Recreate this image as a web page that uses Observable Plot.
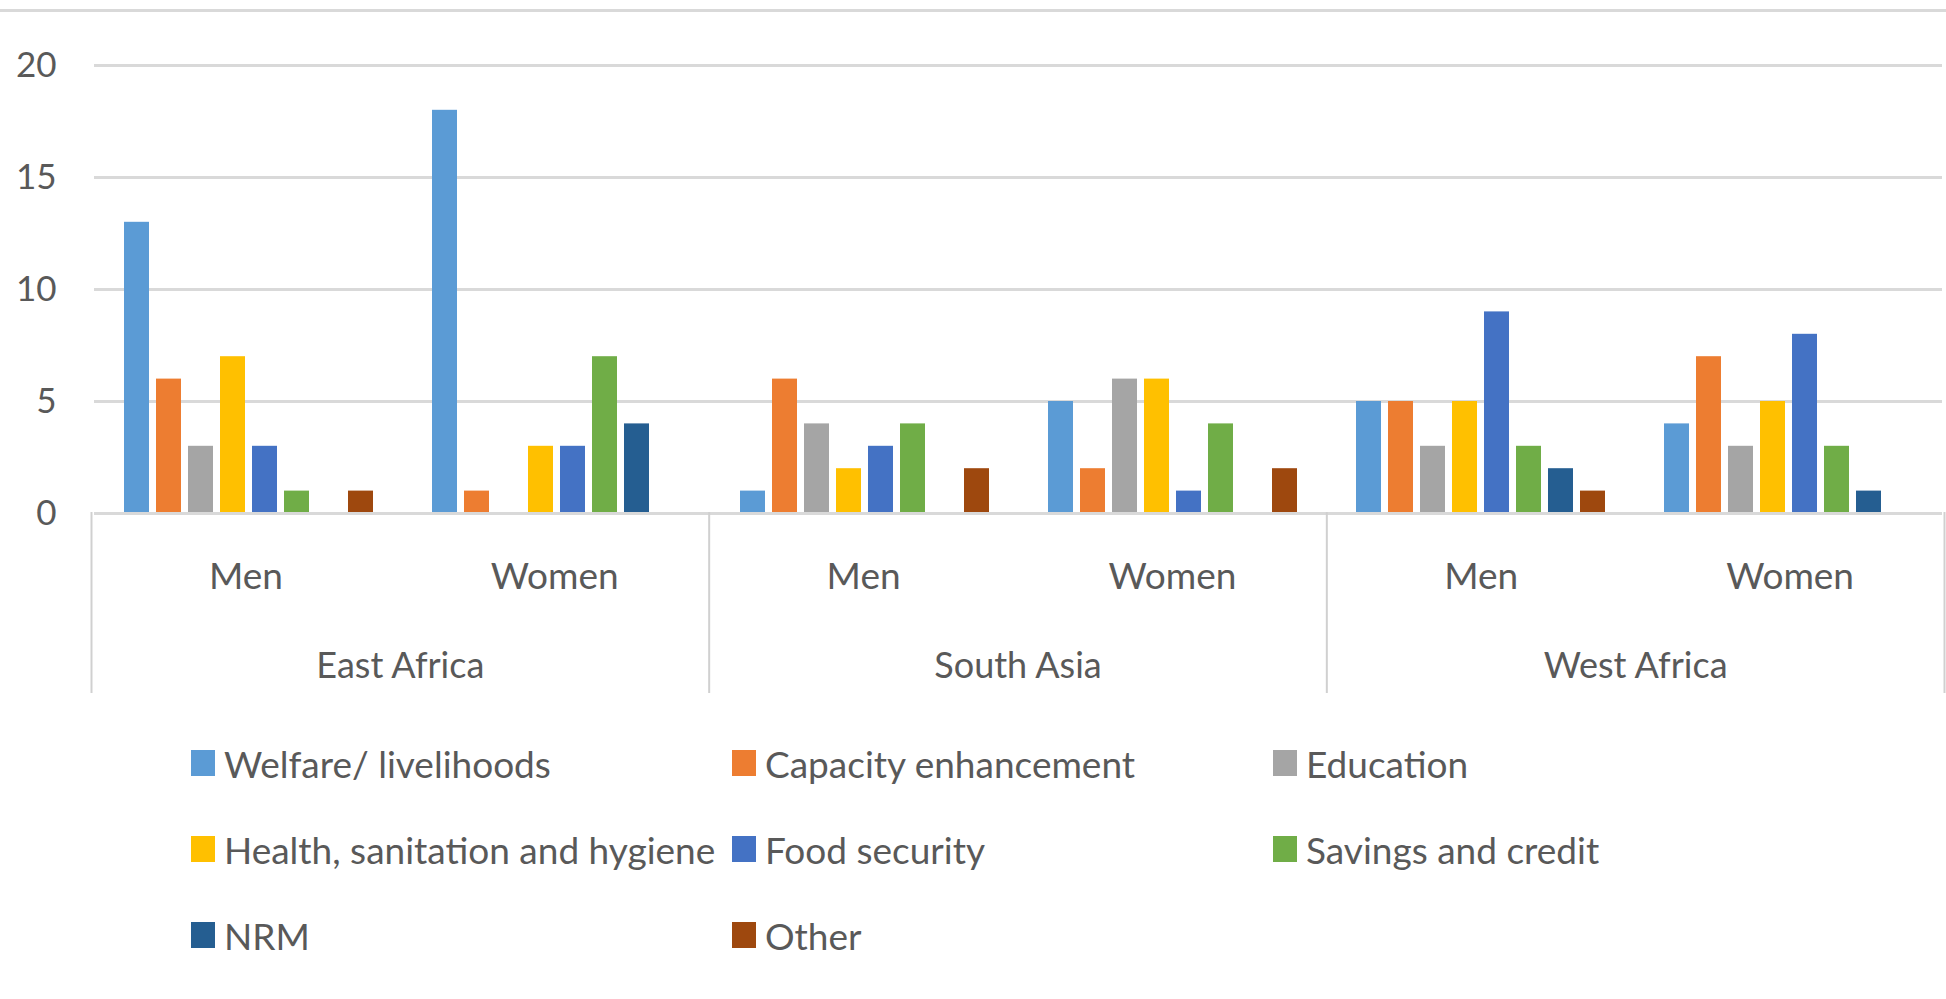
<!DOCTYPE html>
<html>
<head>
<meta charset="utf-8">
<script src="https://cdn.jsdelivr.net/npm/d3@7"></script>
<script src="https://cdn.jsdelivr.net/npm/@observablehq/plot@0.6"></script>
<style>
  html, body { margin: 0; padding: 0; background: #fff; }
  body { width: 1946px; height: 999px; position: relative; overflow: hidden; font-family: Lato, "Open Sans", "DejaVu Sans", sans-serif; }
  #topline { position: absolute; left: 0; top: 9px; width: 1946px; height: 3px; background: #d9d9d9; }
  #chart { position: absolute; left: 0; top: 0; }
  #axis { position: absolute; left: 0; top: 512px; }
  #legend { position: absolute; left: 191px; top: 720px; display: grid; grid-template-columns: 541px 541px 541px; grid-auto-rows: 86px; }
  .item { display: flex; align-items: center; font-size: 37px; color: #595959; white-space: nowrap; }
  .sw { width: 24px; height: 26px; margin-right: 9px; flex: none; }
</style>
</head>
<body>
<div id="topline"></div>
<div id="chart"></div>
<div id="axis"></div>
<div id="legend"></div>
<script>
const regions = ["East Africa", "South Asia", "West Africa"];
const genders = ["Men", "Women"];
const series = ["Welfare/ livelihoods", "Capacity enhancement", "Education", "Health, sanitation and hygiene", "Food security", "Savings and credit", "NRM", "Other"];
const colors = ["#5B9BD5", "#ED7D31", "#A5A5A5", "#FFC000", "#4472C4", "#70AD47", "#255E91", "#9E480E"];
const yTicks = [0, 5, 10, 15, 20];

const eastAfricaMen   = [13, 6, 3, 7, 3, 1, 0, 1];
const eastAfricaWomen = [18, 1, 0, 3, 3, 7, 4, 0];
const southAsiaMen    = [1, 6, 4, 2, 3, 4, 0, 2];
const southAsiaWomen  = [5, 2, 6, 6, 1, 4, 0, 2];
const westAfricaMen   = [5, 5, 3, 5, 9, 3, 2, 1];
const westAfricaWomen = [4, 7, 3, 5, 8, 3, 1, 0];

const groupValues = [
  [eastAfricaMen, eastAfricaWomen],
  [southAsiaMen, southAsiaWomen],
  [westAfricaMen, westAfricaWomen]
];

const subgroups = [];
const rows = [];
regions.forEach((r, ri) => genders.forEach((g, gi) => {
  const key = r + "|" + g;
  subgroups.push({key, region: r, gender: g, idx: ri * genders.length + gi});
  groupValues[ri][gi].forEach((v, si) => {
    if (v > 0) rows.push({key, series: series[si], value: v});
  });
}));
const keys = subgroups.map(d => d.key);
const regionRows = regions.map((r, i) => ({region: r, mid: (i + 0.5) * genders.length}));
const separators = d3.range(0, regions.length + 1).map(i => i * genders.length);

const font = "Lato, 'Open Sans', 'DejaVu Sans', sans-serif";
const textColor = "#595959";
const gridColor = "#d9d9d9";

const chart = Plot.plot({
  width: 1946, height: 700,
  marginLeft: 91, marginRight: 2, marginTop: 65, marginBottom: 187,
  style: {fontFamily: font, color: textColor, background: "transparent"},
  fx: {domain: keys, paddingInner: 0, paddingOuter: 0, axis: null, label: null},
  x: {domain: series, paddingInner: 0.22, paddingOuter: 0.9, axis: null},
  y: {domain: [0, 20], axis: null},
  color: {domain: series, range: colors},
  marks: [
    Plot.gridY(yTicks.filter(t => t > 0), {stroke: gridColor, strokeOpacity: 1, strokeWidth: 3}),
    Plot.axisY(yTicks, {tickSize: 0, tickPadding: 38, fontSize: 35, fill: textColor, label: null}),
    Plot.barY(rows, {fx: "key", x: "series", y: "value", fill: "series"}),
    Plot.ruleY([0], {stroke: gridColor, strokeWidth: 3})
  ]
});
document.getElementById("chart").appendChild(chart);

const axis = Plot.plot({
  width: 1946, height: 181,
  marginLeft: 91, marginRight: 2, marginTop: 0, marginBottom: 0,
  style: {fontFamily: font, color: textColor, background: "transparent"},
  x: {domain: [0, subgroups.length], axis: null},
  y: {axis: null},
  marks: [
    Plot.ruleX(separators, {stroke: "#d0d0d0", strokeWidth: 2}),
    Plot.text(subgroups, {x: d => d.idx + 0.5, text: "gender", frameAnchor: "top", dy: 50, fontSize: 37, fill: textColor}),
    Plot.text(regionRows, {x: "mid", text: "region", frameAnchor: "top", dy: 140, fontSize: 36, fill: textColor})
  ]
});
document.getElementById("axis").appendChild(axis);

const legend = document.getElementById("legend");
series.forEach((s, i) => {
  const item = document.createElement("div");
  item.className = "item";
  const sw = document.createElement("span");
  sw.className = "sw";
  sw.style.background = colors[i];
  const label = document.createElement("span");
  label.textContent = s;
  item.appendChild(sw);
  item.appendChild(label);
  legend.appendChild(item);
});
</script>
</body>
</html>
